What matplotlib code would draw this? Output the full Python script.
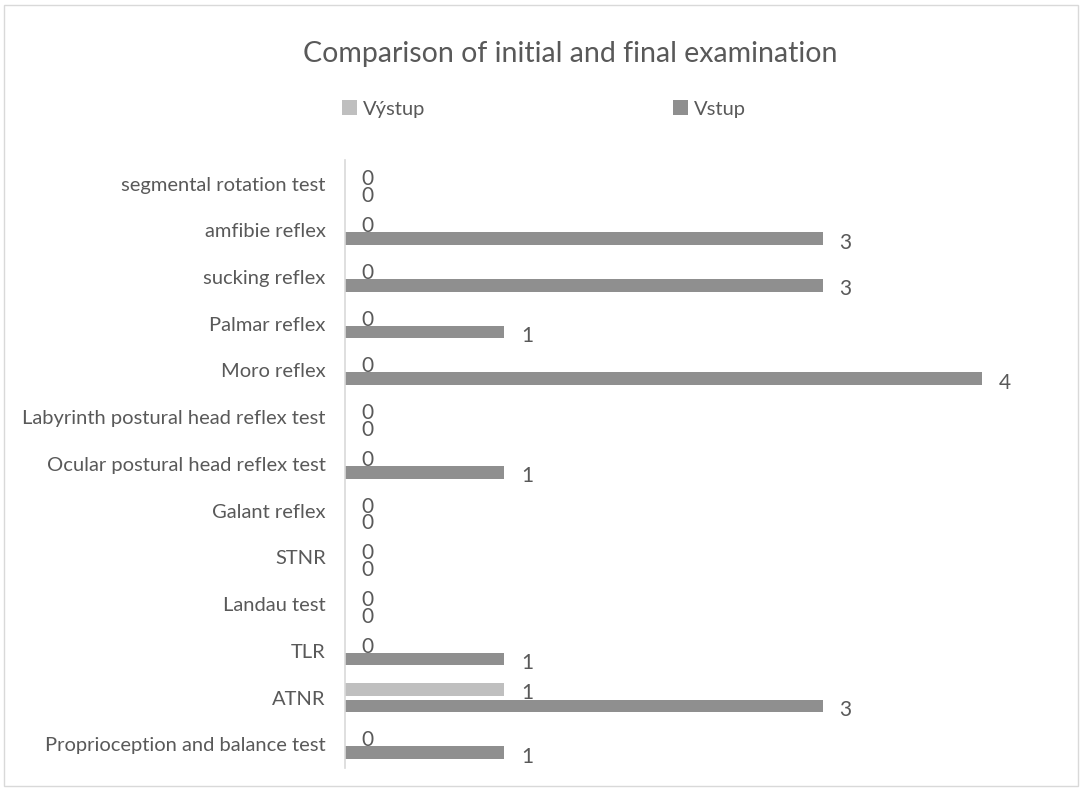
import numpy as np
import matplotlib
matplotlib.use("Agg")
import matplotlib.pyplot as plt
from matplotlib.patches import Rectangle

plt.rcParams["font.family"] = ["Lato", "DejaVu Sans"]

# categories from bottom to top
categories = [
    "Proprioception and balance test", "ATNR", "TLR", "Landau test", "STNR",
    "Galant reflex", "Ocular postural head reflex test",
    "Labyrinth postural head reflex test", "Moro reflex", "Palmar reflex",
    "sucking reflex", "amfibie reflex", "segmental rotation test",
]
vystup = [0, 1, 0, 0, 0, 0, 0, 0, 0, 0, 0, 0, 0]
vstup = [1, 3, 1, 0, 0, 0, 1, 0, 4, 1, 3, 3, 0]

LIGHT = "#BFBFBF"
DARK = "#8F8F8F"
TEXT = "#595959"

fig = plt.figure(figsize=(10.82, 7.89), dpi=100)
ax = fig.add_axes([0.319, 0.027, 0.655, 0.770])

y = np.arange(len(categories))
h = 0.27
off = 0.178
ax.barh(y + off, vystup, height=h, color=LIGHT, label="Výstup")
ax.barh(y - off, vstup, height=h, color=DARK, label="Vstup")

for yi, v in zip(y, vystup):
    ax.annotate(str(v), (v, yi + off), xytext=(12, -3), textcoords="offset points",
                ha="left", va="center", fontsize=15, color=TEXT)
for yi, v in zip(y, vstup):
    ax.annotate(str(v), (v, yi - off), xytext=(12, -3), textcoords="offset points",
                ha="left", va="center", fontsize=15, color=TEXT)

ax.set_xlim(0, 4.45)
ax.set_ylim(-0.5, len(categories) - 0.5)
ax.set_yticks(y)
ax.set_yticklabels(categories, fontsize=14.5, color=TEXT)
ax.tick_params(axis="y", length=0, pad=14)
ax.set_xticks([])
for s in ["top", "right", "bottom"]:
    ax.spines[s].set_visible(False)
ax.spines["left"].set_color("#D9D9D9")
ax.spines["left"].set_linewidth(1.2)

fig.text(0.527, 0.932, "Comparison of initial and final examination",
         ha="center", va="center", fontsize=20.5, color=TEXT)

handles, labels = ax.get_legend_handles_labels()
fig.legend(handles, labels, loc="center", bbox_to_anchor=(0.503, 0.862), ncol=2,
           frameon=False, fontsize=14.5, labelcolor=TEXT, handlelength=0.75,
           handleheight=0.75, handletextpad=0.3, columnspacing=12.3)

fig.patches.append(Rectangle((0.004, 0.004), 0.992, 0.99, transform=fig.transFigure,
                             fill=False, edgecolor="#D9D9D9", linewidth=1))

fig.savefig("out.png", dpi=100)
